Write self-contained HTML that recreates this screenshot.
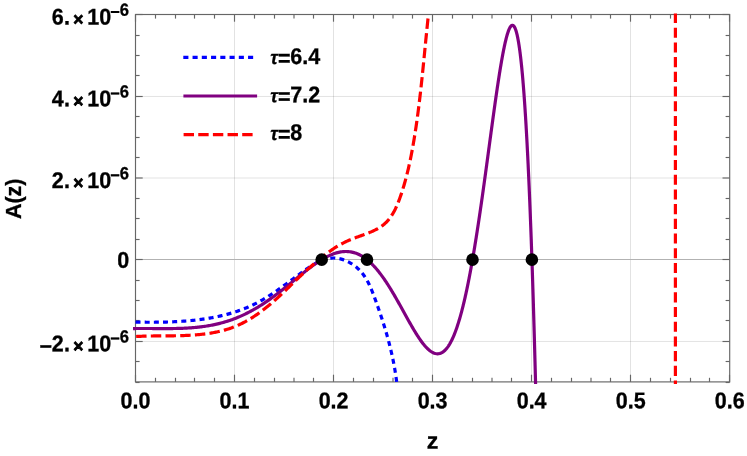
<!DOCTYPE html>
<html><head><meta charset="utf-8"><title>A(z)</title>
<style>html,body{margin:0;padding:0;background:#fff}svg{display:block}text{font-family:"Liberation Sans",Arial,Helvetica,sans-serif;font-weight:bold;fill:#000;stroke:#000;stroke-width:0.3px}</style>
</head><body>
<svg width="747" height="456" viewBox="0 0 747 456">
<rect width="747" height="456" fill="#fff"/>
<g stroke="#000" stroke-opacity="0.115" stroke-width="1" fill="none">
<line x1="234.5" y1="14.5" x2="234.5" y2="381.9"/>
<line x1="333.5" y1="14.5" x2="333.5" y2="381.9"/>
<line x1="432.5" y1="14.5" x2="432.5" y2="381.9"/>
<line x1="531.5" y1="14.5" x2="531.5" y2="381.9"/>
<line x1="630.5" y1="14.5" x2="630.5" y2="381.9"/>
<line x1="135.5" y1="96.45" x2="729.7" y2="96.45"/>
<line x1="135.5" y1="178.0" x2="729.7" y2="178.0"/>
<line x1="135.5" y1="341.45" x2="729.7" y2="341.45"/>
</g>
<line x1="135.5" y1="259.5" x2="729.7" y2="259.5" stroke="#b2b2b2" stroke-width="1"/>
<g stroke="#666" stroke-width="1.15" fill="none">
<rect x="135.5" y="14.5" width="594.2" height="367.4"/>
<line x1="135.50" y1="381.9" x2="135.50" y2="374.7"/>
<line x1="135.50" y1="14.5" x2="135.50" y2="21.7"/>
<line x1="155.50" y1="381.9" x2="155.50" y2="377.79999999999995"/>
<line x1="155.50" y1="14.5" x2="155.50" y2="18.6"/>
<line x1="175.50" y1="381.9" x2="175.50" y2="377.79999999999995"/>
<line x1="175.50" y1="14.5" x2="175.50" y2="18.6"/>
<line x1="194.50" y1="381.9" x2="194.50" y2="377.79999999999995"/>
<line x1="194.50" y1="14.5" x2="194.50" y2="18.6"/>
<line x1="214.50" y1="381.9" x2="214.50" y2="377.79999999999995"/>
<line x1="214.50" y1="14.5" x2="214.50" y2="18.6"/>
<line x1="234.50" y1="381.9" x2="234.50" y2="374.7"/>
<line x1="234.50" y1="14.5" x2="234.50" y2="21.7"/>
<line x1="254.50" y1="381.9" x2="254.50" y2="377.79999999999995"/>
<line x1="254.50" y1="14.5" x2="254.50" y2="18.6"/>
<line x1="274.50" y1="381.9" x2="274.50" y2="377.79999999999995"/>
<line x1="274.50" y1="14.5" x2="274.50" y2="18.6"/>
<line x1="294.00" y1="381.9" x2="294.00" y2="377.79999999999995"/>
<line x1="294.00" y1="14.5" x2="294.00" y2="18.6"/>
<line x1="313.50" y1="381.9" x2="313.50" y2="377.79999999999995"/>
<line x1="313.50" y1="14.5" x2="313.50" y2="18.6"/>
<line x1="333.50" y1="381.9" x2="333.50" y2="374.7"/>
<line x1="333.50" y1="14.5" x2="333.50" y2="21.7"/>
<line x1="353.50" y1="381.9" x2="353.50" y2="377.79999999999995"/>
<line x1="353.50" y1="14.5" x2="353.50" y2="18.6"/>
<line x1="373.50" y1="381.9" x2="373.50" y2="377.79999999999995"/>
<line x1="373.50" y1="14.5" x2="373.50" y2="18.6"/>
<line x1="393.00" y1="381.9" x2="393.00" y2="377.79999999999995"/>
<line x1="393.00" y1="14.5" x2="393.00" y2="18.6"/>
<line x1="412.50" y1="381.9" x2="412.50" y2="377.79999999999995"/>
<line x1="412.50" y1="14.5" x2="412.50" y2="18.6"/>
<line x1="432.50" y1="381.9" x2="432.50" y2="374.7"/>
<line x1="432.50" y1="14.5" x2="432.50" y2="21.7"/>
<line x1="452.50" y1="381.9" x2="452.50" y2="377.79999999999995"/>
<line x1="452.50" y1="14.5" x2="452.50" y2="18.6"/>
<line x1="472.50" y1="381.9" x2="472.50" y2="377.79999999999995"/>
<line x1="472.50" y1="14.5" x2="472.50" y2="18.6"/>
<line x1="492.00" y1="381.9" x2="492.00" y2="377.79999999999995"/>
<line x1="492.00" y1="14.5" x2="492.00" y2="18.6"/>
<line x1="511.50" y1="381.9" x2="511.50" y2="377.79999999999995"/>
<line x1="511.50" y1="14.5" x2="511.50" y2="18.6"/>
<line x1="531.50" y1="381.9" x2="531.50" y2="374.7"/>
<line x1="531.50" y1="14.5" x2="531.50" y2="21.7"/>
<line x1="551.50" y1="381.9" x2="551.50" y2="377.79999999999995"/>
<line x1="551.50" y1="14.5" x2="551.50" y2="18.6"/>
<line x1="571.50" y1="381.9" x2="571.50" y2="377.79999999999995"/>
<line x1="571.50" y1="14.5" x2="571.50" y2="18.6"/>
<line x1="591.00" y1="381.9" x2="591.00" y2="377.79999999999995"/>
<line x1="591.00" y1="14.5" x2="591.00" y2="18.6"/>
<line x1="610.50" y1="381.9" x2="610.50" y2="377.79999999999995"/>
<line x1="610.50" y1="14.5" x2="610.50" y2="18.6"/>
<line x1="630.50" y1="381.9" x2="630.50" y2="374.7"/>
<line x1="630.50" y1="14.5" x2="630.50" y2="21.7"/>
<line x1="650.50" y1="381.9" x2="650.50" y2="377.79999999999995"/>
<line x1="650.50" y1="14.5" x2="650.50" y2="18.6"/>
<line x1="670.50" y1="381.9" x2="670.50" y2="377.79999999999995"/>
<line x1="670.50" y1="14.5" x2="670.50" y2="18.6"/>
<line x1="690.50" y1="381.9" x2="690.50" y2="377.79999999999995"/>
<line x1="690.50" y1="14.5" x2="690.50" y2="18.6"/>
<line x1="709.50" y1="381.9" x2="709.50" y2="377.79999999999995"/>
<line x1="709.50" y1="14.5" x2="709.50" y2="18.6"/>
<line x1="729.50" y1="381.9" x2="729.50" y2="374.7"/>
<line x1="729.50" y1="14.5" x2="729.50" y2="21.7"/>
<line x1="135.5" y1="382.50" x2="139.6" y2="382.50"/>
<line x1="729.7" y1="382.50" x2="725.6" y2="382.50"/>
<line x1="135.5" y1="361.50" x2="139.6" y2="361.50"/>
<line x1="729.7" y1="361.50" x2="725.6" y2="361.50"/>
<line x1="135.5" y1="341.50" x2="142.7" y2="341.50"/>
<line x1="729.7" y1="341.50" x2="722.5" y2="341.50"/>
<line x1="135.5" y1="320.50" x2="139.6" y2="320.50"/>
<line x1="729.7" y1="320.50" x2="725.6" y2="320.50"/>
<line x1="135.5" y1="300.50" x2="139.6" y2="300.50"/>
<line x1="729.7" y1="300.50" x2="725.6" y2="300.50"/>
<line x1="135.5" y1="280.50" x2="139.6" y2="280.50"/>
<line x1="729.7" y1="280.50" x2="725.6" y2="280.50"/>
<line x1="135.5" y1="259.50" x2="142.7" y2="259.50"/>
<line x1="729.7" y1="259.50" x2="722.5" y2="259.50"/>
<line x1="135.5" y1="239.50" x2="139.6" y2="239.50"/>
<line x1="729.7" y1="239.50" x2="725.6" y2="239.50"/>
<line x1="135.5" y1="218.50" x2="139.6" y2="218.50"/>
<line x1="729.7" y1="218.50" x2="725.6" y2="218.50"/>
<line x1="135.5" y1="198.50" x2="139.6" y2="198.50"/>
<line x1="729.7" y1="198.50" x2="725.6" y2="198.50"/>
<line x1="135.5" y1="178.00" x2="142.7" y2="178.00"/>
<line x1="729.7" y1="178.00" x2="722.5" y2="178.00"/>
<line x1="135.5" y1="157.50" x2="139.6" y2="157.50"/>
<line x1="729.7" y1="157.50" x2="725.6" y2="157.50"/>
<line x1="135.5" y1="137.50" x2="139.6" y2="137.50"/>
<line x1="729.7" y1="137.50" x2="725.6" y2="137.50"/>
<line x1="135.5" y1="116.50" x2="139.6" y2="116.50"/>
<line x1="729.7" y1="116.50" x2="725.6" y2="116.50"/>
<line x1="135.5" y1="96.50" x2="142.7" y2="96.50"/>
<line x1="729.7" y1="96.50" x2="722.5" y2="96.50"/>
<line x1="135.5" y1="75.50" x2="139.6" y2="75.50"/>
<line x1="729.7" y1="75.50" x2="725.6" y2="75.50"/>
<line x1="135.5" y1="55.50" x2="139.6" y2="55.50"/>
<line x1="729.7" y1="55.50" x2="725.6" y2="55.50"/>
<line x1="135.5" y1="35.50" x2="139.6" y2="35.50"/>
<line x1="729.7" y1="35.50" x2="725.6" y2="35.50"/>
<line x1="135.5" y1="14.50" x2="142.7" y2="14.50"/>
<line x1="729.7" y1="14.50" x2="722.5" y2="14.50"/>
</g>
<clipPath id="c"><rect x="133.0" y="13.4" width="599.2" height="370.5"/></clipPath>
<g fill="none" stroke-width="3.2" clip-path="url(#c)">
<path d="M135.53,322.11 L136.41,322.12 L137.30,322.14 L138.19,322.15 L139.08,322.16 L139.97,322.17 L140.87,322.18 L141.76,322.19 L142.66,322.20 L143.56,322.21 L144.46,322.22 L145.36,322.22 L146.27,322.23 L147.17,322.23 L148.08,322.24 L148.98,322.24 L149.89,322.24 L150.80,322.24 L151.71,322.24 L152.62,322.24 L153.54,322.23 L154.45,322.23 L155.36,322.22 L156.28,322.21 L157.20,322.20 L158.11,322.19 L159.03,322.18 L159.95,322.17 L160.87,322.15 L161.79,322.14 L162.71,322.12 L163.63,322.10 L164.56,322.07 L165.48,322.05 L166.40,322.03 L167.33,322.00 L168.25,321.97 L169.18,321.94 L170.11,321.90 L171.03,321.87 L171.96,321.83 L172.89,321.79 L173.81,321.75 L174.74,321.71 L175.67,321.66 L176.60,321.61 L177.52,321.56 L178.45,321.51 L179.38,321.45 L180.31,321.40 L181.24,321.34 L182.17,321.27 L183.09,321.21 L184.02,321.14 L184.95,321.07 L185.88,321.00 L186.81,320.92 L187.73,320.85 L188.66,320.76 L189.59,320.68 L190.52,320.59 L191.44,320.50 L192.37,320.41 L193.29,320.32 L194.22,320.22 L195.14,320.12 L196.07,320.01 L196.99,319.90 L197.91,319.79 L198.84,319.68 L199.76,319.56 L200.68,319.44 L201.60,319.32 L202.52,319.19 L203.44,319.06 L204.36,318.92 L205.27,318.79 L206.19,318.65 L207.10,318.50 L208.02,318.35 L208.93,318.20 L209.84,318.05 L210.75,317.89 L211.66,317.72 L212.57,317.56 L213.48,317.38 L214.38,317.21 L215.29,317.03 L216.19,316.85 L217.10,316.66 L218.00,316.47 L218.90,316.28 L219.79,316.08 L220.69,315.88 L221.59,315.67 L222.48,315.46 L223.37,315.24 L224.26,315.02 L225.15,314.80 L226.04,314.57 L226.92,314.34 L227.81,314.10 L228.69,313.86 L229.57,313.61 L230.44,313.36 L231.32,313.10 L232.20,312.84 L233.07,312.58 L233.94,312.31 L234.81,312.03 L235.67,311.75 L236.54,311.47 L237.40,311.18 L238.26,310.89 L239.12,310.59 L239.97,310.28 L240.82,309.97 L241.67,309.66 L242.52,309.34 L243.37,309.01 L244.21,308.68 L245.05,308.35 L245.89,308.01 L246.73,307.66 L247.56,307.31 L248.39,306.95 L249.22,306.59 L250.05,306.22 L250.87,305.85 L251.69,305.47 L252.51,305.09 L253.32,304.70 L254.13,304.30 L254.94,303.90 L255.75,303.49 L256.55,303.08 L257.35,302.66 L258.15,302.24 L258.95,301.81 L259.74,301.38 L260.53,300.94 L261.32,300.49 L262.11,300.04 L262.89,299.59 L263.67,299.13 L264.45,298.67 L265.23,298.20 L266.00,297.73 L266.78,297.25 L267.55,296.77 L268.32,296.29 L269.09,295.80 L269.86,295.31 L270.63,294.81 L271.39,294.31 L272.16,293.81 L272.92,293.30 L273.68,292.79 L274.44,292.28 L275.20,291.76 L275.96,291.24 L276.72,290.72 L277.47,290.20 L278.23,289.67 L278.99,289.14 L279.74,288.61 L280.50,288.07 L281.25,287.53 L282.01,286.99 L282.76,286.45 L283.51,285.91 L284.27,285.36 L285.02,284.81 L285.77,284.26 L286.53,283.71 L287.28,283.16 L288.04,282.60 L288.79,282.05 L289.55,281.49 L290.30,280.93 L291.06,280.37 L291.82,279.81 L292.58,279.25 L293.33,278.69 L294.09,278.13 L294.85,277.57 L295.62,277.01 L296.38,276.44 L297.14,275.88 L297.91,275.32 L298.68,274.75 L299.44,274.19 L300.21,273.63 L300.98,273.06 L301.76,272.50 L302.53,271.94 L303.31,271.38 L304.09,270.82 L304.87,270.26 L305.65,269.71 L306.43,269.16 L307.22,268.61 L308.00,268.07 L308.79,267.54 L309.59,267.01 L310.38,266.49 L311.17,265.98 L311.97,265.48 L312.77,264.99 L313.57,264.50 L314.38,264.03 L315.18,263.57 L315.99,263.13 L316.80,262.70 L317.62,262.28 L318.43,261.87 L319.25,261.49 L320.07,261.11 L320.89,260.76 L321.72,260.42 L322.54,260.11 L323.37,259.81 L324.20,259.53 L325.04,259.27 L325.88,259.04 L326.72,258.82 L327.56,258.63 L328.40,258.46 L329.25,258.32 L330.10,258.20 L330.95,258.11 L331.81,258.05 L332.67,258.01 L333.53,258.00 L334.39,258.02 L335.26,258.07 L336.12,258.14 L336.99,258.24 L337.86,258.36 L338.73,258.52 L339.59,258.69 L340.45,258.89 L341.32,259.12 L342.18,259.36 L343.03,259.63 L343.88,259.93 L344.73,260.24 L345.57,260.58 L346.41,260.94 L347.24,261.32 L348.07,261.72 L348.88,262.14 L349.69,262.58 L350.49,263.04 L351.29,263.52 L352.07,264.02 L352.84,264.53 L353.60,265.06 L354.35,265.61 L355.09,266.17 L355.82,266.75 L356.54,267.34 L357.24,267.95 L357.93,268.58 L358.60,269.22 L359.26,269.87 L359.90,270.53 L360.53,271.21 L361.14,271.90 L361.73,272.60 L362.31,273.31 L362.88,274.04 L363.43,274.77 L363.96,275.51 L364.49,276.27 L365.00,277.03 L365.49,277.81 L365.98,278.59 L366.45,279.38 L366.91,280.18 L367.36,280.98 L367.80,281.79 L368.24,282.61 L368.66,283.44 L369.07,284.27 L369.47,285.11 L369.86,285.96 L370.25,286.80 L370.63,287.66 L371.00,288.52 L371.37,289.38 L371.72,290.24 L372.08,291.11 L372.43,291.98 L372.77,292.86 L373.11,293.73 L373.44,294.61 L373.77,295.49 L374.10,296.37 L374.43,297.25 L374.75,298.13 L375.07,299.01 L375.39,299.88 L375.71,300.76 L376.02,301.64 L376.34,302.52 L376.65,303.40 L376.97,304.27 L377.28,305.15 L377.59,306.02 L377.89,306.90 L378.20,307.77 L378.50,308.65 L378.81,309.52 L379.11,310.39 L379.41,311.27 L379.71,312.14 L380.01,313.01 L380.30,313.88 L380.59,314.75 L380.89,315.63 L381.18,316.50 L381.47,317.37 L381.75,318.24 L382.04,319.11 L382.32,319.98 L382.60,320.85 L382.88,321.73 L383.16,322.60 L383.44,323.47 L383.71,324.34 L383.98,325.21 L384.25,326.08 L384.52,326.95 L384.79,327.82 L385.05,328.70 L385.31,329.57 L385.58,330.44 L385.83,331.31 L386.09,332.19 L386.35,333.06 L386.60,333.93 L386.85,334.81 L387.10,335.68 L387.34,336.56 L387.59,337.43 L387.83,338.31 L388.07,339.18 L388.31,340.06 L388.54,340.94 L388.78,341.81 L389.01,342.69 L389.24,343.57 L389.46,344.45 L389.69,345.33 L389.91,346.21 L390.13,347.10 L390.35,347.98 L390.56,348.86 L390.78,349.75 L390.99,350.63 L391.19,351.52 L391.40,352.40 L391.60,353.29 L391.80,354.18 L392.00,355.07 L392.20,355.96 L392.39,356.85 L392.58,357.74 L392.77,358.64 L392.96,359.53 L393.14,360.43 L393.32,361.32 L393.50,362.22 L393.67,363.12 L393.85,364.02 L394.02,364.92 L394.18,365.83 L394.35,366.73 L394.51,367.64 L394.67,368.54 L394.83,369.45 L394.98,370.36 L395.13,371.27 L395.28,372.19 L395.42,373.10 L395.57,374.02 L395.71,374.93 L395.84,375.85 L395.98,376.77 L396.11,377.69 L396.24,378.62 L396.36,379.54 L396.48,380.47 L396.60,381.40 L396.72,382.33 L396.83,383.26 L396.94,384.19 L397.05,385.13 L397.15,386.07" stroke="#0000ff" stroke-dasharray="5 4.16"/>
<path d="M133.02,328.57 L134.12,328.55 L135.22,328.53 L136.32,328.52 L137.42,328.51 L138.52,328.50 L139.62,328.50 L140.72,328.49 L141.82,328.49 L142.92,328.49 L144.02,328.49 L145.12,328.49 L146.22,328.49 L147.32,328.50 L148.42,328.50 L149.52,328.51 L150.62,328.51 L151.71,328.52 L152.81,328.53 L153.91,328.53 L155.01,328.54 L156.11,328.55 L157.21,328.55 L158.31,328.56 L159.41,328.57 L160.51,328.57 L161.61,328.58 L162.71,328.58 L163.81,328.58 L164.91,328.58 L166.01,328.58 L167.11,328.58 L168.21,328.57 L169.31,328.57 L170.41,328.56 L171.50,328.55 L172.60,328.53 L173.70,328.52 L174.80,328.50 L175.90,328.48 L177.00,328.46 L178.10,328.43 L179.20,328.40 L180.30,328.36 L181.40,328.32 L182.50,328.28 L183.60,328.24 L184.70,328.19 L185.80,328.13 L186.90,328.07 L188.00,328.01 L189.10,327.94 L190.20,327.87 L191.30,327.79 L192.39,327.70 L193.49,327.61 L194.59,327.52 L195.69,327.42 L196.79,327.31 L197.89,327.19 L198.99,327.07 L200.09,326.95 L201.19,326.81 L202.29,326.67 L203.39,326.52 L204.49,326.37 L205.59,326.21 L206.69,326.04 L207.79,325.86 L208.89,325.67 L209.99,325.48 L211.09,325.27 L212.18,325.06 L213.28,324.84 L214.38,324.61 L215.48,324.38 L216.58,324.13 L217.68,323.87 L218.78,323.61 L219.88,323.33 L220.98,323.05 L222.08,322.76 L223.18,322.45 L224.28,322.14 L225.38,321.81 L226.48,321.48 L227.58,321.13 L228.68,320.77 L229.78,320.41 L230.88,320.03 L231.97,319.64 L233.07,319.24 L234.17,318.83 L235.27,318.41 L236.37,317.97 L237.47,317.53 L238.57,317.07 L239.67,316.61 L240.77,316.13 L241.87,315.64 L242.97,315.13 L244.07,314.62 L245.17,314.09 L246.27,313.55 L247.37,313.00 L248.47,312.44 L249.57,311.87 L250.67,311.28 L251.76,310.69 L252.86,310.08 L253.96,309.46 L255.06,308.83 L256.16,308.19 L257.26,307.53 L258.36,306.87 L259.46,306.19 L260.56,305.50 L261.66,304.80 L262.76,304.09 L263.86,303.37 L264.96,302.64 L266.06,301.90 L267.16,301.15 L268.26,300.39 L269.36,299.61 L270.46,298.83 L271.56,298.04 L272.65,297.24 L273.75,296.44 L274.85,295.62 L275.95,294.80 L277.05,293.97 L278.15,293.13 L279.25,292.28 L280.35,291.43 L281.45,290.57 L282.55,289.70 L283.65,288.83 L284.75,287.95 L285.85,287.07 L286.95,286.19 L288.05,285.30 L289.15,284.41 L290.25,283.52 L291.35,282.62 L292.44,281.72 L293.54,280.82 L294.64,279.92 L295.74,279.03 L296.84,278.13 L297.94,277.23 L299.04,276.34 L300.14,275.45 L301.24,274.56 L302.34,273.68 L303.44,272.80 L304.54,271.93 L305.64,271.06 L306.74,270.20 L307.84,269.35 L308.94,268.51 L310.04,267.67 L311.14,266.85 L312.23,266.04 L313.33,265.24 L314.43,264.46 L315.53,263.69 L316.63,262.93 L317.73,262.19 L318.83,261.46 L319.93,260.76 L321.03,260.07 L322.13,259.40 L323.23,258.75 L324.33,258.12 L325.43,257.52 L326.53,256.94 L327.63,256.38 L328.73,255.85 L329.83,255.34 L330.93,254.86 L332.02,254.41 L333.12,253.98 L334.22,253.59 L335.32,253.23 L336.42,252.90 L337.52,252.60 L338.62,252.33 L339.72,252.10 L340.82,251.91 L341.92,251.75 L343.02,251.63 L344.12,251.55 L345.22,251.50 L346.32,251.50 L347.42,251.53 L348.52,251.61 L349.62,251.73 L350.72,251.89 L351.82,252.09 L352.91,252.34 L354.01,252.64 L355.11,252.97 L356.21,253.36 L357.31,253.79 L358.41,254.27 L359.51,254.79 L360.61,255.36 L361.71,255.98 L362.81,256.65 L363.91,257.36 L365.01,258.13 L366.11,258.94 L367.21,259.80 L368.31,260.72 L369.41,261.67 L370.51,262.68 L371.61,263.74 L372.70,264.84 L373.80,265.99 L374.35,266.59 L374.90,267.19 L375.45,267.81 L376.00,268.44 L376.55,269.08 L377.10,269.73 L377.65,270.39 L378.20,271.07 L378.75,271.75 L379.30,272.45 L379.85,273.16 L380.40,273.88 L380.95,274.61 L381.50,275.34 L382.05,276.10 L382.60,276.86 L383.15,277.63 L383.70,278.41 L384.25,279.20 L384.80,280.00 L385.35,280.81 L385.90,281.63 L386.45,282.46 L387.00,283.30 L387.55,284.15 L388.10,285.00 L388.65,285.87 L389.20,286.74 L389.75,287.62 L390.30,288.51 L390.85,289.41 L391.40,290.31 L391.95,291.22 L392.49,292.14 L393.04,293.06 L393.59,294.00 L394.14,294.93 L394.69,295.88 L395.24,296.83 L395.79,297.78 L396.34,298.74 L396.89,299.70 L397.44,300.67 L397.99,301.64 L398.54,302.62 L399.09,303.60 L399.64,304.58 L400.19,305.57 L400.74,306.56 L401.29,307.55 L401.84,308.54 L402.39,309.53 L402.94,310.53 L403.49,311.52 L404.04,312.51 L404.59,313.51 L405.14,314.50 L405.69,315.50 L406.24,316.49 L406.79,317.48 L407.34,318.46 L407.89,319.45 L408.44,320.43 L408.99,321.41 L409.54,322.38 L410.09,323.35 L410.64,324.31 L411.19,325.27 L411.74,326.23 L412.28,327.17 L412.83,328.11 L413.38,329.04 L413.93,329.96 L414.48,330.88 L415.03,331.78 L415.58,332.68 L416.13,333.56 L416.68,334.44 L417.23,335.30 L417.78,336.15 L418.33,336.99 L418.88,337.82 L419.43,338.63 L419.98,339.43 L420.53,340.21 L421.08,340.98 L421.63,341.74 L422.18,342.47 L422.73,343.19 L423.28,343.89 L423.83,344.57 L424.38,345.24 L424.93,345.88 L425.48,346.51 L426.03,347.11 L426.58,347.69 L427.68,348.79 L428.78,349.79 L429.88,350.69 L430.98,351.49 L432.08,352.18 L433.17,352.75 L434.27,353.21 L435.37,353.54 L436.47,353.74 L437.57,353.80 L438.67,353.72 L439.77,353.50 L440.87,353.12 L441.97,352.59 L443.07,351.89 L444.17,351.03 L445.27,349.99 L445.82,349.41 L446.37,348.78 L446.92,348.11 L447.47,347.39 L448.02,346.63 L448.57,345.82 L449.12,344.96 L449.67,344.05 L450.22,343.09 L450.77,342.09 L451.32,341.04 L451.87,339.93 L452.41,338.78 L452.96,337.57 L453.51,336.31 L454.06,335.01 L454.61,333.65 L455.16,332.23 L455.71,330.77 L456.26,329.25 L456.81,327.68 L457.36,326.05 L457.91,324.37 L458.46,322.63 L459.01,320.84 L459.56,319.00 L460.11,317.10 L460.66,315.15 L461.21,313.14 L461.76,311.07 L462.31,308.95 L462.51,308.18 L462.71,307.39 L462.90,306.60 L463.10,305.80 L463.30,304.99 L463.50,304.18 L463.69,303.40 L463.87,302.62 L464.06,301.82 L464.25,301.02 L464.44,300.22 L464.63,299.41 L464.82,298.59 L464.99,297.81 L465.17,297.02 L465.35,296.23 L465.53,295.43 L465.71,294.62 L465.89,293.81 L466.06,293.00 L466.24,292.17 L466.42,291.35 L466.59,290.56 L466.76,289.77 L466.93,288.97 L467.09,288.17 L467.26,287.36 L467.43,286.55 L467.60,285.73 L467.77,284.90 L467.94,284.08 L468.10,283.24 L468.26,282.45 L468.42,281.66 L468.58,280.86 L468.74,280.06 L468.90,279.25 L469.06,278.44 L469.21,277.63 L469.37,276.81 L469.53,275.98 L469.69,275.15 L469.85,274.32 L470.01,273.48 L470.15,272.69 L470.30,271.90 L470.45,271.10 L470.60,270.30 L470.75,269.50 L470.90,268.69 L471.05,267.88 L471.19,267.06 L471.34,266.24 L471.49,265.42 L471.64,264.59 L471.79,263.76 L471.94,262.93 L472.09,262.09 L472.23,261.24 L472.37,260.46 L472.51,259.66 L472.65,258.87 L472.79,258.07 L472.93,257.27 L473.07,256.46 L473.21,255.65 L473.34,254.84 L473.48,254.03 L473.62,253.21 L473.76,252.39 L473.90,251.56 L474.04,250.74 L474.18,249.91 L474.31,249.07 L474.45,248.24 L474.59,247.40 L474.73,246.56 L474.87,245.71 L475.01,244.86 L475.14,244.07 L475.27,243.28 L475.39,242.49 L475.52,241.69 L475.65,240.89 L475.78,240.09 L475.91,239.28 L476.04,238.47 L476.17,237.66 L476.30,236.85 L476.42,236.04 L476.55,235.22 L476.68,234.40 L476.81,233.58 L476.94,232.75 L477.07,231.93 L477.20,231.10 L477.33,230.26 L477.45,229.43 L477.58,228.59 L477.71,227.76 L477.84,226.92 L477.97,226.07 L478.10,225.23 L478.23,224.38 L478.36,223.53 L478.48,222.68 L478.61,221.82 L478.74,220.97 L478.86,220.18 L478.98,219.38 L479.10,218.59 L479.22,217.79 L479.34,216.99 L479.45,216.19 L479.57,215.39 L479.69,214.58 L479.81,213.78 L479.93,212.97 L480.05,212.16 L480.17,211.35 L480.29,210.54 L480.41,209.72 L480.52,208.90 L480.64,208.09 L480.76,207.27 L480.88,206.45 L481.00,205.62 L481.12,204.80 L481.24,203.98 L481.36,203.15 L481.48,202.32 L481.59,201.49 L481.71,200.66 L481.83,199.83 L481.95,198.99 L482.07,198.16 L482.19,197.32 L482.31,196.48 L482.43,195.64 L482.55,194.80 L482.66,193.96 L482.78,193.11 L482.90,192.27 L483.02,191.42 L483.14,190.58 L483.26,189.73 L483.38,188.88 L483.50,188.03 L483.61,187.17 L483.73,186.32 L483.85,185.47 L483.97,184.61 L484.09,183.75 L484.21,182.90 L484.33,182.04 L484.45,181.18 L484.57,180.32 L484.68,179.45 L484.80,178.59 L484.92,177.73 L485.04,176.86 L485.15,176.07 L485.26,175.28 L485.37,174.48 L485.48,173.69 L485.59,172.89 L485.69,172.09 L485.80,171.30 L485.91,170.50 L486.02,169.70 L486.13,168.90 L486.24,168.10 L486.35,167.30 L486.46,166.50 L486.57,165.70 L486.68,164.90 L486.78,164.09 L486.89,163.29 L487.00,162.49 L487.11,161.68 L487.22,160.88 L487.33,160.07 L487.44,159.27 L487.55,158.46 L487.66,157.66 L487.76,156.85 L487.87,156.05 L487.98,155.24 L488.09,154.43 L488.20,153.63 L488.31,152.82 L488.42,152.01 L488.53,151.20 L488.64,150.40 L488.75,149.59 L488.85,148.78 L488.96,147.97 L489.07,147.17 L489.18,146.36 L489.29,145.55 L489.40,144.74 L489.51,143.93 L489.62,143.13 L489.73,142.32 L489.83,141.51 L489.94,140.70 L490.05,139.90 L490.16,139.09 L490.27,138.28 L490.38,137.47 L490.49,136.67 L490.60,135.86 L490.71,135.06 L490.82,134.25 L490.92,133.44 L491.03,132.64 L491.14,131.84 L491.25,131.03 L491.36,130.23 L491.47,129.42 L491.58,128.62 L491.69,127.82 L491.80,127.02 L491.90,126.22 L492.01,125.42 L492.12,124.62 L492.23,123.82 L492.34,123.02 L492.45,122.22 L492.56,121.42 L492.67,120.63 L492.78,119.83 L492.89,119.04 L492.99,118.24 L493.10,117.45 L493.22,116.58 L493.34,115.72 L493.46,114.86 L493.58,114.00 L493.70,113.14 L493.82,112.28 L493.94,111.42 L494.05,110.57 L494.17,109.71 L494.29,108.86 L494.41,108.01 L494.53,107.16 L494.65,106.31 L494.77,105.46 L494.89,104.62 L495.00,103.77 L495.12,102.93 L495.24,102.09 L495.36,101.25 L495.48,100.42 L495.60,99.58 L495.72,98.75 L495.84,97.92 L495.96,97.09 L496.07,96.26 L496.19,95.44 L496.31,94.61 L496.43,93.79 L496.55,92.97 L496.67,92.16 L496.79,91.34 L496.91,90.53 L497.03,89.72 L497.14,88.91 L497.26,88.11 L497.38,87.31 L497.50,86.51 L497.62,85.71 L497.74,84.92 L497.86,84.13 L497.99,83.27 L498.12,82.42 L498.24,81.57 L498.37,80.73 L498.50,79.89 L498.63,79.05 L498.76,78.21 L498.89,77.38 L499.02,76.56 L499.15,75.73 L499.27,74.91 L499.40,74.10 L499.53,73.29 L499.66,72.48 L499.79,71.68 L499.92,70.88 L500.05,70.08 L500.18,69.29 L500.31,68.45 L500.45,67.60 L500.59,66.77 L500.73,65.94 L500.87,65.11 L501.01,64.29 L501.15,63.48 L501.28,62.67 L501.42,61.87 L501.56,61.07 L501.70,60.28 L501.85,59.44 L502.00,58.60 L502.15,57.77 L502.29,56.95 L502.44,56.14 L502.59,55.34 L502.74,54.54 L502.89,53.75 L503.05,52.92 L503.21,52.09 L503.36,51.28 L503.52,50.47 L503.68,49.67 L503.84,48.88 L504.01,48.06 L504.18,47.24 L504.35,46.44 L504.51,45.65 L504.69,44.83 L504.87,44.01 L505.05,43.22 L505.23,42.43 L505.41,41.62 L505.60,40.82 L505.79,40.04 L505.99,39.24 L506.19,38.45 L506.40,37.65 L506.60,36.87 L506.82,36.07 L507.04,35.30 L507.27,34.52 L507.50,33.73 L507.75,32.95 L508.01,32.17 L508.28,31.39 L508.55,30.64 L508.85,29.88 L509.17,29.12 L509.51,28.39 L509.87,27.68 L510.28,26.99 L510.74,26.33 L511.30,25.75 L511.99,25.34 L512.79,25.32 L513.49,25.72 L514.03,26.32 L514.48,27.00 L514.85,27.72 L515.19,28.48 L515.49,29.23 L515.76,30.01 L516.01,30.77 L516.25,31.56 L516.47,32.33 L516.68,33.12 L516.87,33.91 L517.06,34.69 L517.24,35.48 L517.42,36.29 L517.59,37.09 L517.76,37.93 L517.91,38.74 L518.06,39.53 L518.21,40.34 L518.36,41.18 L518.50,41.99 L518.64,42.81 L518.78,43.67 L518.90,44.48 L519.03,45.31 L519.16,46.16 L519.28,46.96 L519.40,47.78 L519.52,48.62 L519.64,49.47 L519.75,50.27 L519.86,51.09 L519.96,51.92 L520.07,52.76 L520.18,53.62 L520.28,54.42 L520.38,55.23 L520.48,56.05 L520.58,56.88 L520.68,57.73 L520.78,58.59 L520.88,59.46 L520.96,60.26 L521.05,61.07 L521.14,61.89 L521.23,62.72 L521.32,63.56 L521.41,64.41 L521.50,65.27 L521.59,66.14 L521.68,67.03 L521.77,67.92 L521.85,68.73 L521.93,69.55 L522.00,70.37 L522.08,71.20 L522.16,72.04 L522.24,72.90 L522.32,73.76 L522.40,74.62 L522.48,75.50 L522.56,76.39 L522.64,77.29 L522.72,78.20 L522.79,79.00 L522.86,79.80 L522.93,80.62 L523.00,81.44 L523.06,82.27 L523.13,83.11 L523.20,83.95 L523.27,84.81 L523.34,85.67 L523.41,86.53 L523.48,87.41 L523.55,88.29 L523.62,89.18 L523.69,90.08 L523.76,90.98 L523.83,91.89 L523.90,92.81 L523.97,93.74 L524.03,94.54 L524.08,95.35 L524.14,96.16 L524.20,96.98 L524.26,97.80 L524.32,98.63 L524.38,99.47 L524.44,100.31 L524.50,101.16 L524.56,102.01 L524.62,102.87 L524.68,103.74 L524.74,104.61 L524.80,105.48 L524.86,106.37 L524.92,107.25 L524.98,108.15 L525.04,109.05 L525.10,109.96 L525.15,110.87 L525.21,111.79 L525.27,112.71 L525.33,113.64 L525.39,114.58 L525.45,115.52 L525.51,116.47 L525.57,117.43 L525.62,118.23 L525.67,119.03 L525.72,119.84 L525.77,120.66 L525.82,121.47 L525.87,122.30 L525.92,123.12 L525.97,123.95 L526.02,124.79 L526.07,125.63 L526.12,126.47 L526.16,127.32 L526.21,128.18 L526.26,129.03 L526.31,129.90 L526.36,130.76 L526.41,131.63 L526.46,132.51 L526.51,133.39 L526.56,134.27 L526.61,135.16 L526.66,136.06 L526.71,136.95 L526.76,137.86 L526.81,138.76 L526.86,139.68 L526.91,140.59 L526.96,141.51 L527.01,142.44 L527.06,143.37 L527.11,144.31 L527.16,145.24 L527.20,146.19 L527.25,147.14 L527.30,148.09 L527.35,149.05 L527.40,150.01 L527.45,150.98 L527.50,151.95 L527.55,152.93 L527.60,153.91 L527.65,154.90 L527.70,155.89 L527.75,156.89 L527.79,157.69 L527.83,158.49 L527.87,159.30 L527.91,160.11 L527.95,160.92 L527.99,161.74 L528.03,162.56 L528.07,163.38 L528.11,164.21 L528.15,165.03 L528.19,165.87 L528.22,166.70 L528.26,167.54 L528.30,168.38 L528.34,169.23 L528.38,170.07 L528.42,170.92 L528.46,171.78 L528.50,172.63 L528.54,173.50 L528.58,174.36 L528.62,175.23 L528.66,176.10 L528.70,176.97 L528.74,177.85 L528.78,178.73 L528.82,179.61 L528.86,180.49 L528.90,181.38 L528.94,182.28 L528.98,183.17 L529.02,184.07 L529.06,184.98 L529.10,185.88 L529.14,186.79 L529.18,187.70 L529.22,188.62 L529.25,189.54 L529.29,190.46 L529.33,191.39 L529.37,192.32 L529.41,193.25 L529.45,194.18 L529.49,195.12 L529.53,196.07 L529.57,197.01 L529.61,197.96 L529.65,198.92 L529.69,199.87 L529.73,200.83 L529.77,201.79 L529.81,202.76 L529.85,203.73 L529.89,204.70 L529.93,205.68 L529.97,206.66 L530.01,207.64 L530.05,208.63 L530.09,209.62 L530.13,210.62 L530.17,211.61 L530.21,212.61 L530.25,213.62 L530.29,214.63 L530.32,215.64 L530.36,216.65 L530.40,217.67 L530.44,218.69 L530.48,219.72 L530.52,220.75 L530.56,221.78 L530.60,222.82 L530.64,223.86 L530.68,224.90 L530.72,225.95 L530.76,227.00 L530.80,228.05 L530.84,229.11 L530.88,230.17 L530.92,231.24 L530.95,232.04 L530.98,232.84 L531.01,233.65 L531.04,234.45 L531.07,235.26 L531.10,236.07 L531.13,236.89 L531.16,237.70 L531.19,238.52 L531.22,239.34 L531.25,240.16 L531.28,240.98 L531.31,241.81 L531.33,242.64 L531.36,243.47 L531.39,244.30 L531.42,245.13 L531.45,245.97 L531.48,246.81 L531.51,247.65 L531.54,248.49 L531.57,249.34 L531.60,250.18 L531.63,251.03 L531.66,251.88 L531.69,252.73 L531.72,253.59 L531.75,254.45 L531.78,255.31 L531.81,256.17 L531.84,257.03 L531.87,257.90 L531.90,258.76 L531.93,259.63 L531.96,260.51 L531.99,261.38 L532.02,262.26 L532.05,263.14 L532.08,264.02 L532.11,264.90 L532.14,265.78 L532.17,266.67 L532.20,267.56 L532.23,268.45 L532.26,269.35 L532.29,270.24 L532.32,271.14 L532.35,272.04 L532.37,272.94 L532.40,273.85 L532.43,274.75 L532.46,275.66 L532.49,276.57 L532.52,277.49 L532.55,278.40 L532.58,279.32 L532.61,280.24 L532.64,281.16 L532.67,282.09 L532.70,283.01 L532.73,283.94 L532.76,284.87 L532.79,285.81 L532.82,286.74 L532.85,287.68 L532.88,288.62 L532.91,289.56 L532.94,290.51 L532.97,291.45 L533.00,292.40 L533.03,293.35 L533.06,294.31 L533.09,295.26 L533.12,296.22 L533.15,297.18 L533.18,298.14 L533.21,299.11 L533.24,300.08 L533.27,301.04 L533.30,302.02 L533.33,302.99 L533.36,303.97 L533.39,304.95 L533.41,305.93 L533.44,306.91 L533.47,307.89 L533.50,308.88 L533.53,309.87 L533.56,310.86 L533.59,311.86 L533.62,312.86 L533.65,313.86 L533.68,314.86 L533.71,315.86 L533.74,316.87 L533.77,317.88 L533.80,318.89 L533.83,319.90 L533.86,320.92 L533.89,321.93 L533.92,322.95 L533.95,323.98 L533.98,325.00 L534.01,326.03 L534.04,327.06 L534.07,328.09 L534.10,329.13 L534.13,330.16 L534.16,331.20 L534.19,332.24 L534.22,333.29 L534.25,334.33 L534.28,335.38 L534.31,336.43 L534.34,337.49 L534.37,338.54 L534.40,339.60 L534.43,340.66 L534.45,341.73 L534.48,342.79 L534.51,343.86 L534.54,344.93 L534.57,346.00 L534.60,347.08 L534.63,348.16 L534.66,349.24 L534.69,350.32 L534.72,351.40 L534.75,352.49 L534.78,353.58 L534.81,354.67 L534.84,355.77 L534.87,356.87 L534.90,357.97 L534.93,359.07 L534.96,360.17 L534.99,361.28 L535.02,362.39 L535.05,363.50 L535.08,364.62 L535.11,365.73 L535.14,366.85 L535.17,367.98 L535.20,369.10 L535.23,370.23 L535.26,371.36 L535.29,372.49 L535.32,373.63 L535.35,374.76 L535.38,375.90 L535.41,377.04 L535.44,378.19 L535.47,379.34 L535.49,380.49 L535.52,381.64 L535.55,382.79 L535.58,383.95 L535.61,385.11 L535.63,385.89" stroke="#800080" stroke-linejoin="round"/>
<path d="M136.12,336.52 L137.07,336.47 L138.03,336.42 L138.98,336.37 L139.94,336.32 L140.90,336.28 L141.86,336.24 L142.83,336.21 L143.80,336.18 L144.77,336.15 L145.75,336.12 L146.72,336.09 L147.70,336.07 L148.68,336.05 L149.66,336.03 L150.65,336.01 L151.64,336.00 L152.62,335.98 L153.61,335.97 L154.61,335.96 L155.60,335.94 L156.60,335.93 L157.59,335.93 L158.59,335.92 L159.59,335.91 L160.60,335.90 L161.60,335.89 L162.60,335.89 L163.61,335.88 L164.61,335.87 L165.62,335.86 L166.63,335.86 L167.64,335.85 L168.65,335.84 L169.66,335.83 L170.67,335.82 L171.69,335.81 L172.70,335.79 L173.71,335.78 L174.73,335.76 L175.74,335.74 L176.76,335.72 L177.77,335.70 L178.79,335.68 L179.80,335.65 L180.82,335.63 L181.83,335.60 L182.85,335.56 L183.86,335.53 L184.88,335.49 L185.89,335.45 L186.91,335.40 L187.92,335.36 L188.93,335.30 L189.94,335.25 L190.96,335.19 L191.97,335.13 L192.98,335.07 L193.99,335.00 L195.00,334.92 L196.00,334.84 L197.01,334.76 L198.02,334.67 L199.02,334.58 L200.02,334.48 L201.02,334.38 L202.02,334.28 L203.02,334.16 L204.02,334.05 L205.02,333.92 L206.01,333.80 L207.00,333.66 L207.99,333.52 L208.98,333.38 L209.97,333.22 L210.95,333.06 L211.93,332.90 L212.92,332.73 L213.89,332.55 L214.87,332.36 L215.84,332.17 L216.81,331.97 L217.78,331.77 L218.75,331.55 L219.71,331.33 L220.67,331.10 L221.63,330.86 L222.59,330.62 L223.54,330.37 L224.49,330.10 L225.43,329.84 L226.38,329.56 L227.32,329.27 L228.25,328.98 L229.19,328.67 L230.12,328.36 L231.05,328.04 L231.97,327.70 L232.89,327.36 L233.80,327.01 L234.72,326.65 L235.63,326.28 L236.53,325.90 L237.43,325.52 L238.33,325.12 L239.22,324.71 L240.11,324.29 L241.00,323.87 L241.88,323.44 L242.76,322.99 L243.64,322.54 L244.51,322.08 L245.38,321.62 L246.24,321.14 L247.11,320.66 L247.96,320.17 L248.82,319.67 L249.67,319.17 L250.52,318.65 L251.36,318.13 L252.20,317.61 L253.04,317.07 L253.87,316.53 L254.70,315.99 L255.53,315.44 L256.35,314.88 L257.18,314.31 L257.99,313.74 L258.81,313.16 L259.62,312.58 L260.42,311.99 L261.23,311.40 L262.03,310.80 L262.83,310.20 L263.62,309.59 L264.41,308.98 L265.20,308.36 L265.99,307.74 L266.77,307.12 L267.55,306.49 L268.32,305.85 L269.10,305.22 L269.86,304.57 L270.63,303.93 L271.39,303.28 L272.16,302.63 L272.91,301.97 L273.67,301.32 L274.42,300.66 L275.17,299.99 L275.91,299.33 L276.66,298.66 L277.40,297.99 L278.13,297.32 L278.87,296.64 L279.60,295.97 L280.33,295.29 L281.06,294.61 L281.79,293.93 L282.52,293.25 L283.24,292.56 L283.96,291.88 L284.68,291.19 L285.40,290.50 L286.12,289.81 L286.84,289.12 L287.55,288.43 L288.27,287.74 L288.99,287.05 L289.70,286.36 L290.41,285.67 L291.13,284.97 L291.84,284.28 L292.56,283.59 L293.27,282.90 L293.98,282.21 L294.70,281.51 L295.41,280.82 L296.13,280.13 L296.84,279.44 L297.56,278.75 L298.28,278.06 L299.00,277.38 L299.72,276.69 L300.44,276.01 L301.16,275.32 L301.89,274.64 L302.62,273.96 L303.34,273.28 L304.08,272.60 L304.81,271.93 L305.54,271.26 L306.28,270.59 L307.02,269.92 L307.76,269.25 L308.51,268.59 L309.26,267.92 L310.01,267.27 L310.76,266.61 L311.52,265.96 L312.28,265.31 L313.04,264.66 L313.80,264.01 L314.57,263.37 L315.34,262.73 L316.11,262.09 L316.89,261.45 L317.66,260.82 L318.43,260.19 L319.21,259.56 L319.99,258.93 L320.77,258.30 L321.54,257.68 L322.32,257.06 L323.10,256.43 L323.88,255.82 L324.66,255.20 L325.45,254.59 L326.23,253.98 L327.02,253.38 L327.81,252.78 L328.60,252.19 L329.39,251.61 L330.19,251.02 L330.99,250.45 L331.80,249.88 L332.60,249.33 L333.42,248.78 L334.23,248.23 L335.05,247.70 L335.88,247.17 L336.71,246.66 L337.54,246.15 L338.39,245.65 L339.23,245.16 L340.08,244.68 L340.94,244.21 L341.80,243.75 L342.67,243.29 L343.54,242.84 L344.42,242.40 L345.31,241.97 L346.20,241.55 L347.10,241.13 L348.01,240.73 L348.92,240.33 L349.84,239.93 L350.77,239.55 L351.70,239.17 L352.64,238.80 L353.59,238.43 L354.53,238.07 L355.49,237.72 L356.45,237.36 L357.40,237.01 L358.37,236.67 L359.33,236.32 L360.29,235.97 L361.26,235.63 L362.22,235.28 L363.18,234.93 L364.14,234.58 L365.10,234.23 L366.05,233.87 L367.00,233.51 L367.95,233.14 L368.89,232.76 L369.82,232.38 L370.75,231.99 L371.67,231.60 L372.58,231.19 L373.49,230.78 L374.38,230.35 L375.27,229.92 L376.14,229.47 L377.01,229.01 L377.86,228.54 L378.70,228.05 L379.52,227.55 L380.33,227.03 L381.13,226.49 L381.91,225.94 L382.68,225.38 L383.43,224.79 L384.16,224.18 L384.88,223.56 L385.57,222.91 L386.25,222.25 L386.91,221.56 L387.56,220.86 L388.19,220.15 L388.80,219.41 L389.40,218.66 L389.99,217.89 L390.55,217.11 L391.11,216.32 L391.65,215.51 L392.18,214.68 L392.69,213.85 L393.19,213.00 L393.68,212.14 L394.16,211.27 L394.62,210.39 L395.08,209.50 L395.52,208.60 L395.95,207.69 L396.38,206.78 L396.79,205.85 L397.19,204.92 L397.59,203.99 L397.97,203.04 L398.35,202.09 L398.72,201.14 L399.08,200.19 L399.44,199.22 L399.79,198.26 L400.13,197.30 L400.47,196.33 L400.80,195.36 L401.13,194.39 L401.45,193.42 L401.77,192.45 L402.08,191.49 L402.39,190.52 L402.69,189.55 L402.99,188.58 L403.29,187.62 L403.58,186.65 L403.87,185.68 L404.15,184.71 L404.43,183.75 L404.71,182.78 L404.98,181.82 L405.25,180.85 L405.52,179.88 L405.78,178.92 L406.04,177.95 L406.29,176.99 L406.54,176.02 L406.79,175.06 L407.03,174.09 L407.27,173.12 L407.51,172.16 L407.75,171.19 L407.98,170.23 L408.21,169.26 L408.43,168.29 L408.65,167.33 L408.87,166.36 L409.09,165.40 L409.30,164.43 L409.52,163.46 L409.72,162.50 L409.93,161.53 L410.13,160.56 L410.34,159.59 L410.53,158.62 L410.73,157.66 L410.92,156.69 L411.12,155.72 L411.31,154.75 L411.49,153.78 L411.68,152.81 L411.86,151.84 L412.05,150.87 L412.23,149.90 L412.40,148.93 L412.58,147.95 L412.75,146.98 L412.93,146.01 L413.10,145.03 L413.27,144.06 L413.44,143.08 L413.60,142.11 L413.77,141.13 L413.93,140.16 L414.10,139.18 L414.26,138.20 L414.42,137.22 L414.57,136.24 L414.73,135.27 L414.89,134.29 L415.04,133.31 L415.19,132.33 L415.35,131.34 L415.50,130.36 L415.65,129.38 L415.79,128.40 L415.94,127.42 L416.09,126.43 L416.23,125.45 L416.37,124.47 L416.52,123.48 L416.66,122.50 L416.80,121.51 L416.93,120.53 L417.07,119.54 L417.21,118.55 L417.34,117.57 L417.48,116.58 L417.61,115.59 L417.74,114.61 L417.87,113.62 L418.00,112.63 L418.13,111.64 L418.26,110.65 L418.39,109.66 L418.51,108.68 L418.64,107.69 L418.76,106.70 L418.89,105.71 L419.01,104.72 L419.13,103.73 L419.25,102.73 L419.37,101.74 L419.49,100.75 L419.61,99.76 L419.72,98.77 L419.84,97.78 L419.96,96.79 L420.07,95.79 L420.19,94.80 L420.30,93.81 L420.41,92.82 L420.53,91.82 L420.64,90.83 L420.75,89.84 L420.86,88.84 L420.97,87.85 L421.08,86.86 L421.19,85.86 L421.29,84.87 L421.40,83.88 L421.51,82.88 L421.61,81.89 L421.72,80.90 L421.83,79.90 L421.93,78.91 L422.04,77.91 L422.14,76.92 L422.24,75.93 L422.35,74.93 L422.45,73.94 L422.55,72.94 L422.65,71.95 L422.75,70.96 L422.85,69.96 L422.96,68.97 L423.06,67.97 L423.16,66.98 L423.26,65.99 L423.36,64.99 L423.46,64.00 L423.55,63.01 L423.65,62.01 L423.75,61.02 L423.85,60.03 L423.95,59.03 L424.05,58.04 L424.15,57.05 L424.24,56.05 L424.34,55.06 L424.44,54.07 L424.54,53.08 L424.63,52.08 L424.73,51.09 L424.83,50.10 L424.93,49.11 L425.02,48.12 L425.12,47.13 L425.22,46.14 L425.32,45.15 L425.41,44.15 L425.51,43.16 L425.61,42.17 L425.71,41.18 L425.80,40.20 L425.90,39.21 L426.00,38.22 L426.10,37.23 L426.20,36.24 L426.30,35.25 L426.40,34.26 L426.49,33.28 L426.59,32.29 L426.69,31.30 L426.79,30.32 L426.89,29.33 L426.99,28.35 L427.10,27.36 L427.20,26.38 L427.30,25.39 L427.40,24.41 L427.50,23.42 L427.60,22.44 L427.71,21.46 L427.81,20.47 L427.91,19.49 L428.02,18.51 L428.12,17.53" stroke="#ff0000" stroke-dasharray="10.45 4.25"/>
<path d="M675.4,13.0 L675.4,385" stroke="#ff0000" stroke-dasharray="10.1 4.6"/>
</g>
<circle cx="321.7" cy="259.67" r="6.3" fill="#000"/>
<circle cx="367.0" cy="259.67" r="6.3" fill="#000"/>
<circle cx="472.5" cy="259.67" r="6.3" fill="#000"/>
<circle cx="531.9" cy="259.67" r="6.3" fill="#000"/>
<g fill="none" stroke-width="3.2">
<path d="M183.3,57.4 H256.4" stroke="#0000ff" stroke-dasharray="5.1 4.15"/>
<path d="M183.4,96 H257.1" stroke="#800080"/>
<path d="M183.6,134.6 H256.4" stroke="#ff0000" stroke-dasharray="10.4 4.25"/>
</g>
<text font-style="italic" transform="translate(270.20,63.95) rotate(0.03) scale(0.86,0.89)" font-size="21.5">τ</text>
<text transform="translate(278.00,65.85) rotate(0.03) scale(1,1.057)" font-size="21.5">=</text>
<text letter-spacing="0.1" transform="translate(290.15,63.95) rotate(0.03) scale(1,1.057)" font-size="21.5">6.4</text>
<text font-style="italic" transform="translate(270.20,102.15) rotate(0.03) scale(0.86,0.89)" font-size="21.5">τ</text>
<text transform="translate(278.00,104.05) rotate(0.03) scale(1,1.057)" font-size="21.5">=</text>
<text letter-spacing="0.1" transform="translate(290.15,102.15) rotate(0.03) scale(1,1.057)" font-size="21.5">7.2</text>
<text font-style="italic" transform="translate(270.20,139.95) rotate(0.03) scale(0.86,0.89)" font-size="21.5">τ</text>
<text transform="translate(278.00,141.85) rotate(0.03) scale(1,1.057)" font-size="21.5">=</text>
<text letter-spacing="0.1" transform="translate(290.15,139.95) rotate(0.03) scale(1,1.057)" font-size="21.5">8</text>
<text transform="translate(135.50,408.30) rotate(0.03) scale(1,1.057)" font-size="21.5" text-anchor="middle">0.0</text>
<text transform="translate(234.53,408.30) rotate(0.03) scale(1,1.057)" font-size="21.5" text-anchor="middle">0.1</text>
<text transform="translate(333.57,408.30) rotate(0.03) scale(1,1.057)" font-size="21.5" text-anchor="middle">0.2</text>
<text transform="translate(432.60,408.30) rotate(0.03) scale(1,1.057)" font-size="21.5" text-anchor="middle">0.3</text>
<text transform="translate(531.63,408.30) rotate(0.03) scale(1,1.057)" font-size="21.5" text-anchor="middle">0.4</text>
<text transform="translate(630.67,408.30) rotate(0.03) scale(1,1.057)" font-size="21.5" text-anchor="middle">0.5</text>
<text transform="translate(729.70,408.30) rotate(0.03) scale(1,1.057)" font-size="21.5" text-anchor="middle">0.6</text>
<text transform="translate(432.50,448.50) rotate(0.03) scale(1.08,1.057)" font-size="21.5" text-anchor="middle">z</text>
<text transform="translate(20.80,198.80) rotate(-90) scale(1.0,1.0)" font-size="21.5" text-anchor="middle">A(z)</text>
<text letter-spacing="0.3" transform="translate(51.70,24.57) rotate(0.03) scale(1,1.057)" font-size="21.5">6.</text><text style="stroke-width:0.8px" transform="translate(78.40,25.62) rotate(0.03) scale(1,1.057)" font-size="17.4" text-anchor="middle">×</text><text transform="translate(87.30,24.57) rotate(0.03) scale(1,1.057)" font-size="21.5">10</text><text transform="translate(129.10,15.87) rotate(0.03) scale(1,1.057)" font-size="16.6" text-anchor="end">6</text><text transform="translate(119.90,17.67) rotate(0.03) scale(1,1.057)" font-size="16.4" text-anchor="end">−</text>
<text letter-spacing="0.3" transform="translate(51.70,106.24) rotate(0.03) scale(1,1.057)" font-size="21.5">4.</text><text style="stroke-width:0.8px" transform="translate(78.40,107.29) rotate(0.03) scale(1,1.057)" font-size="17.4" text-anchor="middle">×</text><text transform="translate(87.30,106.24) rotate(0.03) scale(1,1.057)" font-size="21.5">10</text><text transform="translate(129.10,97.54) rotate(0.03) scale(1,1.057)" font-size="16.6" text-anchor="end">6</text><text transform="translate(119.90,99.34) rotate(0.03) scale(1,1.057)" font-size="16.4" text-anchor="end">−</text>
<text letter-spacing="0.3" transform="translate(51.70,187.90) rotate(0.03) scale(1,1.057)" font-size="21.5">2.</text><text style="stroke-width:0.8px" transform="translate(78.40,188.95) rotate(0.03) scale(1,1.057)" font-size="17.4" text-anchor="middle">×</text><text transform="translate(87.30,187.90) rotate(0.03) scale(1,1.057)" font-size="21.5">10</text><text transform="translate(129.10,179.20) rotate(0.03) scale(1,1.057)" font-size="16.6" text-anchor="end">6</text><text transform="translate(119.90,181.00) rotate(0.03) scale(1,1.057)" font-size="16.4" text-anchor="end">−</text>
<text transform="translate(129.30,267.67) rotate(0.03) scale(1,1.057)" font-size="21.5" text-anchor="end">0</text>
<text transform="translate(39.40,354.04) rotate(0.03) scale(1,1.057)" font-size="21.5">−</text><text letter-spacing="0.3" transform="translate(51.70,351.24) rotate(0.03) scale(1,1.057)" font-size="21.5">2.</text><text style="stroke-width:0.8px" transform="translate(78.40,352.29) rotate(0.03) scale(1,1.057)" font-size="17.4" text-anchor="middle">×</text><text transform="translate(87.30,351.24) rotate(0.03) scale(1,1.057)" font-size="21.5">10</text><text transform="translate(129.10,342.54) rotate(0.03) scale(1,1.057)" font-size="16.6" text-anchor="end">6</text><text transform="translate(119.90,344.34) rotate(0.03) scale(1,1.057)" font-size="16.4" text-anchor="end">−</text>
</svg></body></html>
